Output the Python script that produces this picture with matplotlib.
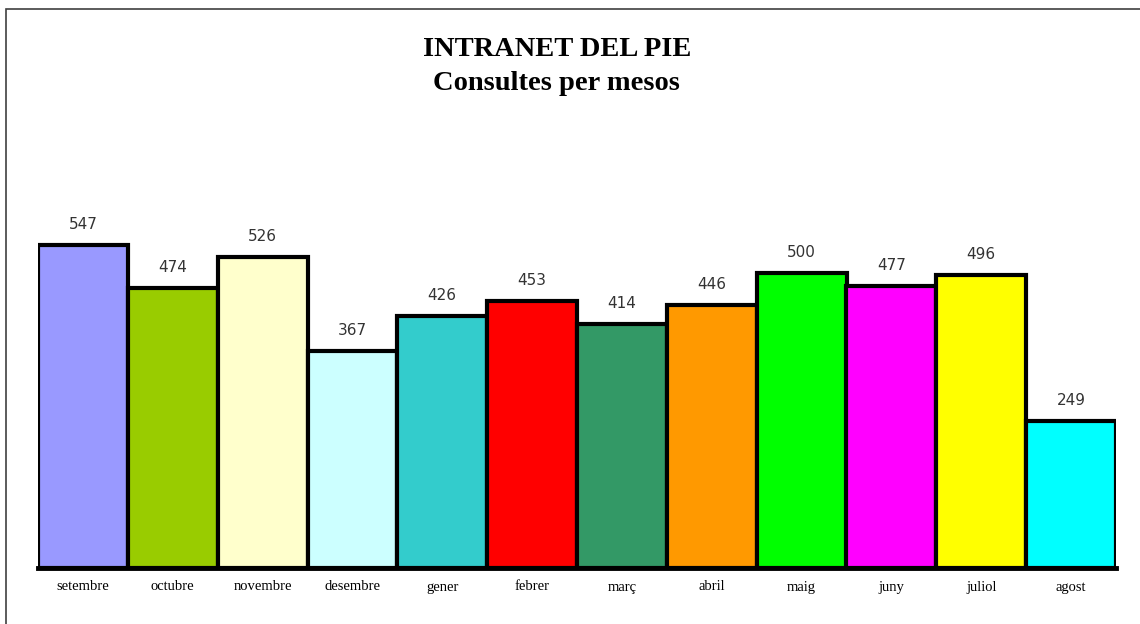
import matplotlib.pyplot as plt
from matplotlib.patches import Rectangle

months = ['setembre', 'octubre', 'novembre', 'desembre', 'gener', 'febrer',
          'març', 'abril', 'maig', 'juny', 'juliol', 'agost']
consultes = [547, 474, 526, 367, 426, 453, 414, 446, 500, 477, 496, 249]
colors = ['#9999FF', '#99CC00', '#FFFFCC', '#CCFFFF', '#33CCCC', '#FF0000',
          '#339966', '#FF9900', '#00FF00', '#FF00FF', '#FFFF00', '#00FFFF']

fig = plt.figure(figsize=(11.4, 6.24), dpi=100)
W, H = 1140, 624

# outer frame of the chart
fig.patches.append(Rectangle((6 / W, -0.01), 1.1, 1 - 9 / H + 0.01,
                             transform=fig.transFigure, fill=False,
                             edgecolor='#404040', linewidth=1.2))

ax = fig.add_axes([38 / W, 56 / H, (1116 - 38) / W, (568 - 160) / H])
x = range(len(months))
ax.bar(x, consultes, width=1.0, color=colors, edgecolor='black', linewidth=3)
ax.axhline(0, color='black', linewidth=3.5, clip_on=False)
ax.set_xlim(-0.5, len(months) - 0.5)
ax.set_ylim(0, (568 - 160) / 0.5905)

for i, v in zip(x, consultes):
    ax.text(i, v + 22, str(v), ha='center', va='bottom', fontsize=11,
            family='DejaVu Sans', color='#333333')

ax.set_xticks(list(x))
ax.set_xticklabels(months, family='Liberation Serif', fontsize=10.5)
ax.tick_params(axis='x', length=0, pad=9)
ax.set_yticks([])
for s in ax.spines.values():
    s.set_visible(False)

fig.text(557 / W, 1 - 50 / H, 'INTRANET DEL PIE', ha='center', va='center',
         family='Liberation Serif', fontweight='bold', fontsize=20.5)
fig.text(556 / W, 1 - 84 / H, 'Consultes per mesos', ha='center', va='center',
         family='Liberation Serif', fontweight='bold', fontsize=20.5)

fig.savefig('out.png', dpi=100)
